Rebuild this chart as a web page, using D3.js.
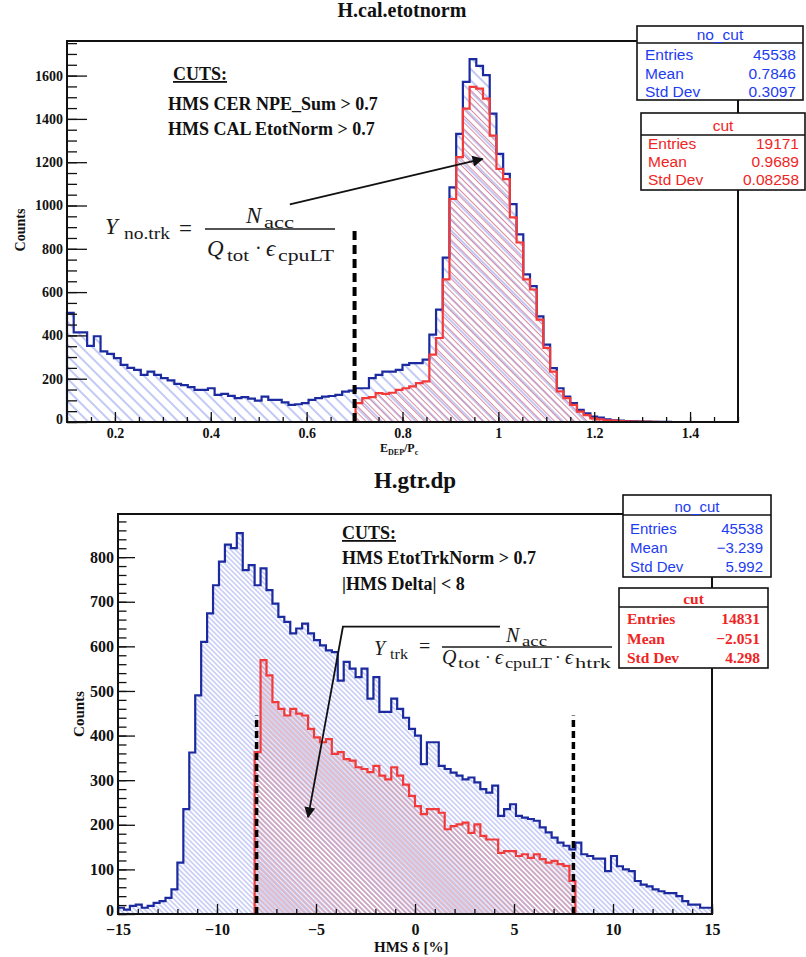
<!DOCTYPE html>
<html>
<head>
<meta charset="utf-8">
<script src="https://cdn.jsdelivr.net/npm/d3@7"></script>
<style>
  body { margin: 0; background: #fff; }
  svg { display: block; }
</style>
</head>
<body>
<svg id="chart"></svg>
<script>
// ---- H.cal.etotnorm : 100 bins on [0.1, 1.5]
const calRange = [0.1, 1.5];
const calNoCut = [
    504, 414, 414, 352, 396, 326, 315, 295, 264, 250,
    241, 218, 233, 218, 203, 192, 176, 170, 161, 148,
    148, 156, 125, 130, 121, 110, 115, 108, 99, 117,
    102, 102, 91, 79, 82, 87, 102, 110, 117, 120,
    125, 140, 145, 156, 156, 203, 218, 233, 233, 241,
    264, 272, 272, 288, 404, 519, 759, 1084, 1331, 1571,
    1676, 1645, 1602, 1424, 1238, 1146, 1006, 867, 682, 628,
    488, 357, 249, 156, 117, 87, 56, 40, 25, 20,
    12, 8, 6, 4, 3, 2, 2, 1, 1, 1,
    0, 0, 0, 0, 0, 0, 0, 0, 0, 0
];
const calCut = [
    0, 0, 0, 0, 0, 0, 0, 0, 0, 0,
    0, 0, 0, 0, 0, 0, 0, 0, 0, 0,
    0, 0, 0, 0, 0, 0, 0, 0, 0, 0,
    0, 0, 0, 0, 0, 0, 0, 0, 0, 0,
    0, 0, 0, 87, 110, 115, 133, 130, 135, 148,
    156, 165, 180, 188, 311, 388, 659, 1030, 1223, 1447,
    1548, 1540, 1494, 1323, 1169, 1122, 945, 829, 659, 612,
    473, 342, 233, 141, 110, 79, 48, 32, 17, 12,
    8, 6, 4, 3, 2, 2, 1, 1, 0, 0,
    0, 0, 0, 0, 0, 0, 0, 0, 0, 0
];
const calXMajor = [0.2, 0.4, 0.6, 0.8, 1.0, 1.2, 1.4];
const calYMajor = [0, 200, 400, 600, 800, 1000, 1200, 1400, 1600];
const calCutLines = [0.7];
const calCutLineTop = 900;
const calArrow = [[0.565, 1005], [0.967, 1215]];
const calStatsNoCut = ["45538", "0.7846", "0.3097"];
const calStatsCut = ["19171", "0.9689", "0.08258"];

// ---- H.gtr.dp : 100 bins on [-15, 15]
const dpRange = [-15, 15];
const dpNoCut = [
    14, 10, 18, 21, 14, 18, 25, 29, 36, 55,
    115, 235, 362, 490, 610, 674, 737, 790, 828, 820,
    854, 771, 782, 737, 775, 726, 696, 666, 655, 629,
    640, 651, 629, 614, 602, 591, 587, 523, 565, 550,
    531, 550, 483, 531, 453, 453, 483, 460, 440, 415,
    400, 336, 385, 385, 332, 325, 317, 310, 302, 306,
    295, 280, 272, 288, 220, 235, 246, 220, 216, 213,
    209, 194, 183, 171, 160, 153, 145, 160, 134, 130,
    124, 124, 96, 130, 107, 100, 96, 74, 66, 62,
    55, 51, 47, 47, 40, 29, 21, 21, 14, 14
];
const dpCut = [
    0, 0, 0, 0, 0, 0, 0, 0, 0, 0,
    0, 0, 0, 0, 0, 0, 0, 0, 0, 0,
    0, 0, 0, 363, 569, 535, 475, 460, 445, 460,
    449, 445, 415, 396, 385, 392, 359, 363, 347, 344,
    329, 325, 318, 332, 310, 302, 329, 310, 290, 265,
    242, 224, 235, 235, 227, 190, 197, 201, 205, 182,
    201, 175, 167, 167, 137, 141, 141, 130, 134, 126,
    134, 123, 115, 119, 112, 108, 74, 0, 0, 0,
    0, 0, 0, 0, 0, 0, 0, 0, 0, 0,
    0, 0, 0, 0, 0, 0, 0, 0, 0, 0
];
const dpXMajor = [-15, -10, -5, 0, 5, 10, 15];
const dpYMajor = [0, 100, 200, 300, 400, 500, 600, 700, 800];
const dpCutLines = [-8, 8];
const dpCutLineTop = 445;
const dpArrow = [[4.29, 644], [-3.64, 644], [-5.4, 217]];
const dpStatsNoCut = ["45538", "\u22123.239", "5.992"];
const dpStatsCut = ["14831", "\u22122.051", "4.298"];

const statLabels = ["Entries", "Mean", "Std Dev"];

const BLUE = "#1b2a9e", RED = "#f23a3a";
const SERIF = "'Liberation Serif', 'Times New Roman', serif";
const SANS = "'Liberation Sans', Arial, sans-serif";

const svg = d3.select("#chart").attr("width", 806).attr("height", 957);
const defs = svg.append("defs");

function hatch(id, color, gap) {
    const p = defs.append("pattern")
        .attr("id", id)
        .attr("patternUnits", "userSpaceOnUse")
        .attr("width", gap).attr("height", gap)
        .attr("patternTransform", "rotate(-45)");
    p.append("line")
        .attr("x1", gap / 2).attr("x2", gap / 2)
        .attr("y1", 0).attr("y2", gap)
        .attr("stroke", color).attr("stroke-width", 1);
}
hatch("hBlueTop", "#8494ea", 8);
hatch("hRedTop", "#d88aa0", 4.6);
hatch("hBlueBot", "#a4adf0", 3.5);
hatch("hRedBot", "#cf8597", 3.6);

defs.append("marker")
    .attr("id", "head")
    .attr("viewBox", "0 0 10 10")
    .attr("refX", 9).attr("refY", 5)
    .attr("markerUnits", "userSpaceOnUse")
    .attr("markerWidth", 14).attr("markerHeight", 11)
    .attr("orient", "auto")
    .append("path").attr("d", "M0,0 L10,5 L0,10 Z").attr("fill", "#111");

function drawPanel(cfg) {
    const g = svg.append("g");
    const [lo, hi] = cfg.range;
    const n = cfg.noCut.length;
    const bw = (hi - lo) / n;
    const b = cfg.box;

    const x = d3.scaleLinear().domain(cfg.range).range([b.left, b.right]);
    const y = d3.scaleLinear().domain([0, d3.max(cfg.noCut) * 1.05]).range([b.bottom, b.top]);

    const pts = arr => arr.map((v, i) => [lo + i * bw, v]).concat([[hi, arr[n - 1]]]);
    const area = d3.area().curve(d3.curveStepAfter)
        .x(d => x(d[0])).y0(y(0)).y1(d => y(d[1]));
    const line = d3.line().curve(d3.curveStepAfter)
        .x(d => x(d[0])).y(d => y(d[1]));

    [[cfg.noCut, cfg.hatches[0], BLUE], [cfg.cut, cfg.hatches[1], RED]].forEach(([arr, pat, col]) => {
        g.append("path").attr("d", area(pts(arr))).attr("fill", `url(#${pat})`);
        g.append("path")
            .attr("d", line([[lo, 0]].concat(pts(arr), [[hi, 0]])))
            .attr("fill", "none").attr("stroke", col).attr("stroke-width", 2.2);
    });

    // axes, ROOT style: ticks pointing inward
    const style = (sel, size) => {
        sel.select(".domain").remove();
        sel.selectAll("line").attr("stroke", "#111").attr("stroke-width", 1.3);
        sel.selectAll("text").attr("font-family", SERIF).attr("font-weight", "bold")
            .attr("font-size", size).attr("fill", "#111");
    };
    const xMinor = d3.range(lo, hi + 1e-9, cfg.xMinorStep);
    const yMinor = d3.range(0, y.domain()[1], cfg.yMinorStep);

    g.append("g").attr("transform", `translate(0,${b.bottom})`)
        .call(d3.axisBottom(x).tickValues(xMinor).tickSize(-5).tickFormat(""))
        .call(s => style(s, cfg.tickFont));
    g.append("g").attr("transform", `translate(0,${b.bottom})`)
        .call(d3.axisBottom(x).tickValues(cfg.xMajor).tickSize(-10).tickPadding(cfg.xPad).tickFormat(d3.format("")))
        .call(s => style(s, cfg.tickFont));
    g.append("g").attr("transform", `translate(${b.left},0)`)
        .call(d3.axisLeft(y).tickValues(yMinor).tickSize(-cfg.yTick / 2).tickFormat(""))
        .call(s => style(s, cfg.tickFont));
    g.append("g").attr("transform", `translate(${b.left},0)`)
        .call(d3.axisLeft(y).tickValues(cfg.yMajor).tickSize(-cfg.yTick).tickPadding(4).tickFormat(d3.format("d")))
        .call(s => style(s, cfg.tickFont))
        .call(s => s.selectAll("text").filter(d => d === 0).attr("dy", "0.1em"));

    g.append("rect")
        .attr("x", b.left).attr("y", b.top)
        .attr("width", b.right - b.left).attr("height", b.bottom - b.top)
        .attr("fill", "none").attr("stroke", "#111").attr("stroke-width", 2);

    // cut lines
    g.selectAll(".cutline").data(cfg.cutLines).join("line")
        .attr("x1", d => x(d)).attr("x2", d => x(d))
        .attr("y1", y(0)).attr("y2", y(cfg.cutLineTop))
        .attr("stroke", "#000").attr("stroke-width", cfg.dash[0])
        .attr("stroke-dasharray", cfg.dash.slice(1).join(","));

    // arrow annotation
    g.append("path")
        .attr("d", d3.line().x(d => x(d[0])).y(d => y(d[1]))(cfg.arrow))
        .attr("fill", "none").attr("stroke", "#111").attr("stroke-width", 1.8)
        .attr("marker-end", "url(#head)");

    return g;
}

drawPanel({
    range: calRange, noCut: calNoCut, cut: calCut,
    box: { left: 67, right: 738, top: 41, bottom: 422 },
    hatches: ["hBlueTop", "hRedTop"],
    xMajor: calXMajor, yMajor: calYMajor, xMinorStep: 0.05, yMinorStep: 50,
    yTick: 20, tickFont: 14, xPad: 6,
    cutLines: calCutLines, cutLineTop: calCutLineTop, dash: [4, 9, 5],
    arrow: calArrow
});
drawPanel({
    range: dpRange, noCut: dpNoCut, cut: dpCut,
    box: { left: 118, right: 712, top: 514, bottom: 914 },
    hatches: ["hBlueBot", "hRedBot"],
    xMajor: dpXMajor, yMajor: dpYMajor, xMinorStep: 1, yMinorStep: 20,
    yTick: 17, tickFont: 16, xPad: 10,
    cutLines: dpCutLines, cutLineTop: dpCutLineTop, dash: [3.5, 7, 4],
    arrow: dpArrow
});

// ---- titles and axis titles
const txt = (x, y, s, size, opts = {}) => svg.append("text")
    .attr("x", x).attr("y", y)
    .attr("font-family", opts.family || SERIF)
    .attr("font-weight", opts.weight || "bold")
    .attr("font-style", opts.italic ? "italic" : "normal")
    .attr("font-size", size)
    .attr("text-anchor", opts.anchor || "start")
    .attr("fill", opts.fill || "#111")
    .text(s);

txt(402, 17, "H.cal.etotnorm", 20, { anchor: "middle" });
txt(415, 488, "H.gtr.dp", 23, { anchor: "middle" });

txt(0, 0, "Counts", 14, { anchor: "middle" }).attr("transform", "translate(25,230) rotate(-90)");
txt(0, 0, "Counts", 15, { anchor: "middle" }).attr("transform", "translate(84,714) rotate(-90)");

const xt = txt(380, 452, "", 12);
xt.append("tspan").text("E");
xt.append("tspan").attr("font-size", 8).attr("dy", 3).text("DEP");
xt.append("tspan").attr("dy", -3).text("/P");
xt.append("tspan").attr("font-size", 8).attr("dy", 3).text("c");
txt(374, 952, "HMS  \u03b4 [%]", 15);

// ---- cut descriptions
txt(173, 80, "CUTS:", 18).attr("text-decoration", "underline");
txt(168, 110, "HMS CER NPE_Sum > 0.7", 18);
txt(168, 135, "HMS CAL EtotNorm > 0.7", 18);
txt(342, 539, "CUTS:", 18).attr("text-decoration", "underline");
txt(342, 564, "HMS EtotTrkNorm > 0.7", 18);
txt(342, 590, "|HMS Delta| < 8", 18);

// ---- yield formulas
function formula(pieces, bar) {
    svg.append("line")
        .attr("x1", bar[0]).attr("x2", bar[1]).attr("y1", bar[2]).attr("y2", bar[2])
        .attr("stroke", "#1a1a1a").attr("stroke-width", 1.3);
    pieces.forEach(([s, x, y, size, it, len]) => {
        const t = txt(x, y, s, size, { weight: "normal", italic: it, fill: "#1a1a1a" });
        if (len) t.attr("textLength", len).attr("lengthAdjust", "spacingAndGlyphs");
    });
}
formula([
    ["Y", 105, 234, 23, true],
    ["no.trk", 124, 239, 16, false, 46],
    ["=", 179, 236, 23, false],
    ["N", 246, 223, 23, true],
    ["acc", 264, 228, 16, false, 30],
    ["Q", 207, 256, 23, true],
    ["tot", 227, 261, 16, false, 22],
    ["\u00b7", 255, 255, 20, false],
    ["\u03f5", 266, 256, 23, true],
    ["cpuLT", 278, 261, 16, false, 56]
], [205, 335, 229]);
formula([
    ["Y", 374, 655, 20, true],
    ["trk", 390, 659, 14, false, 18],
    ["=", 419, 653, 20, false],
    ["N", 506, 642, 20, true],
    ["acc", 522, 646, 14, false, 25],
    ["Q", 442, 664, 20, true],
    ["tot", 458, 668, 14, false, 22],
    ["\u00b7", 485, 663, 17, false],
    ["\u03f5", 495, 664, 20, true],
    ["cpuLT", 505, 668, 14, false, 47],
    ["\u00b7", 555, 663, 17, false],
    ["\u03f5", 565, 664, 20, true],
    ["htrk", 575, 668, 14, false, 36]
], [442, 612, 647]);

// ---- stat boxes
function statBox(b, title, values, color, font) {
    const g = svg.append("g");
    g.append("rect").attr("x", b.x).attr("y", b.y).attr("width", b.w).attr("height", b.h)
        .attr("fill", "#fff").attr("stroke", "#111").attr("stroke-width", 1.6);
    g.append("line").attr("x1", b.x).attr("x2", b.x + b.w).attr("y1", b.div).attr("y2", b.div)
        .attr("stroke", "#111").attr("stroke-width", 1.3);
    const o = { family: font.family, weight: font.weight, fill: color };
    txt(b.x + b.w / 2, b.titleY, title, font.size, { ...o, anchor: "middle" });
    statLabels.forEach((lab, i) => {
        txt(b.labelX, b.rows[i], lab, font.size, o);
        txt(b.valueX, b.rows[i], values[i], font.size, { ...o, anchor: "end" });
    });
}
const sansFont = { family: SANS, weight: "normal", size: 15.5 };
const serifFont = { family: SERIF, weight: "bold", size: 15.5 };
statBox({ x: 637, y: 26, w: 166, h: 74, div: 43, titleY: 40, rows: [60, 79, 97], labelX: 645, valueX: 796 },
    "no_cut", calStatsNoCut, "#1e3cf0", sansFont);
statBox({ x: 641, y: 113, w: 164, h: 77, div: 135, titleY: 131, rows: [149, 167, 185], labelX: 648, valueX: 799 },
    "cut", calStatsCut, "#f02424", sansFont);
statBox({ x: 623, y: 495, w: 148, h: 82, div: 515, titleY: 512, rows: [534, 553, 572], labelX: 630, valueX: 763 },
    "no_cut", dpStatsNoCut, "#1e3cf0", { ...sansFont, size: 15 });
statBox({ x: 619, y: 588, w: 149, h: 80, div: 607, titleY: 604, rows: [624, 644, 663], labelX: 627, valueX: 760 },
    "cut", dpStatsCut, "#f02424", serifFont);
</script>
</body>
</html>
